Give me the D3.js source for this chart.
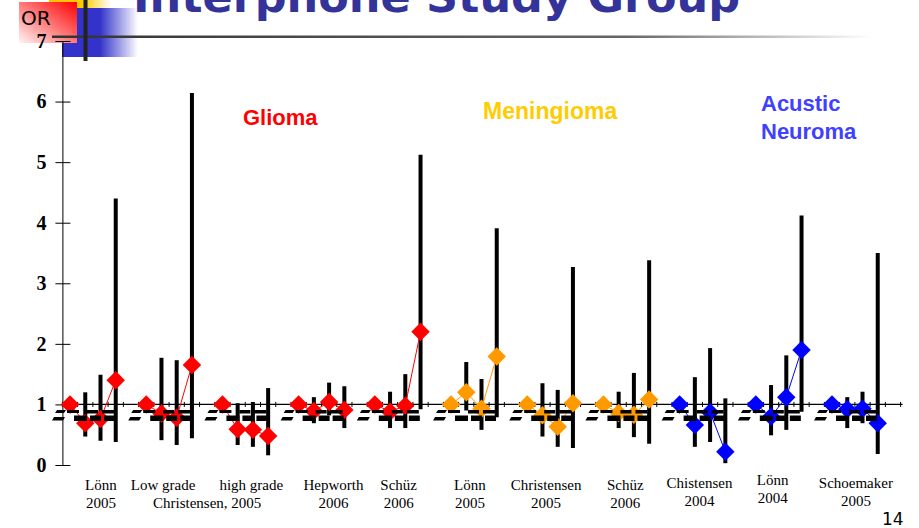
<!DOCTYPE html>
<html><head><meta charset="utf-8">
<script src="https://cdn.jsdelivr.net/npm/d3@7"></script>
<style>html,body{margin:0;padding:0;background:#fff;} svg{display:block}</style>
</head><body>
<svg id="chart" width="919" height="528"></svg>
<script>
// ---------------- DATA ----------------
const studies = ["Lönn 2005 G", "Christensen 2005 low grade", "Christensen 2005 high grade", "Hepworth 2006", "Schüz 2006 G",
                 "Lönn 2005 M", "Christensen 2005 M", "Schüz 2006 M",
                 "Christensen 2004", "Lönn 2004", "Schoemaker 2005"];
const tumourTypes = ["Glioma","Glioma","Glioma","Glioma","Glioma",
                     "Meningioma","Meningioma","Meningioma",
                     "Acustic Neuroma","Acustic Neuroma","Acustic Neuroma"];
const exposures = ["ref", "e1", "e2", "e3"];
const orValues = [
  [1.00, 0.69, 0.76, 1.40],
  [1.00, 0.85, 0.78, 1.65],
  [1.00, 0.59, 0.58, 0.48],
  [1.00, 0.89, 1.04, 0.91],
  [1.00, 0.88, 0.98, 2.20],
  [1.00, 1.20, 0.93, 1.79],
  [1.00, 0.82, 0.63, 1.02],
  [1.00, 0.86, 0.83, 1.08],
  [1.00, 0.66, 0.87, 0.22],
  [1.00, 0.80, 1.12, 1.90],
  [1.00, 0.92, 0.93, 0.69]
];
const ciLower = [
  [null, 0.47, 0.40, 0.38],
  [null, 0.41, 0.33, 0.44],
  [null, 0.33, 0.30, 0.16],
  [null, 0.69, 0.82, 0.61],
  [null, 0.61, 0.61, 0.92],
  [null, 0.90, 0.58, 0.79],
  [null, 0.47, 0.30, 0.28],
  [null, 0.61, 0.46, 0.35],
  [null, 0.30, 0.38, 0.03],
  [null, 0.49, 0.58, 0.88],
  [null, 0.61, 0.69, 0.18]
];
const ciUpper = [
  [null, 1.20, 1.49, 4.40],
  [null, 1.77, 1.73, 6.14],
  [null, 1.02, 1.04, 1.27],
  [null, 1.12, 1.36, 1.30],
  [null, 1.21, 1.50, 5.12],
  [null, 1.70, 1.42, 3.91],
  [null, 1.35, 1.24, 3.27],
  [null, 1.21, 1.52, 3.38],
  [null, 1.45, 1.93, 1.10],
  [null, 1.32, 1.81, 4.12],
  [null, 1.12, 1.21, 3.50]
];
const yTicks = [0, 1, 2, 3, 4, 5, 6, 7];
const labelLine1 = ["Lönn", "Low grade", "high grade", "Hepworth", "Schüz", "Lönn", "Christensen", "Schüz", "Chistensen", "Lönn", "Schoemaker"];
const labelLine2 = ["2005", "", "", "2006", "2006", "2005", "2005", "2006", "2004", "2004", "2005"];
const sharedLabel = "Christensen, 2005";
const typeNames = ["Glioma", "Meningioma", "Acustic Neuroma"];
const titleText = "Interphone Study Group";
const yAxisTitle = "OR";
const pageNumber = "14";

// ---------------- LAYOUT / STYLE ----------------
const typeColor = {"Glioma": "#ff0000", "Meningioma": "#ff9900", "Acustic Neuroma": "#0000ff"};
const typeTextColor = {"Glioma": "#ff0000", "Meningioma": "#ffcc00", "Acustic Neuroma": "#4040ff"};
const labelDx = [8, -6, 6, 12, 1, -4, -4, -1, -3, -6, 1];
const labelDy = [0, 0, 0, 0, 0, 0, 0, 0, -2, -5, -2];

const svg = d3.select("#chart");
const slots = studies.flatMap(s => [...exposures, "gap"].map(e => s + "|" + e));
const x = d3.scaleBand().domain(slots).range([62.4, 900.6]).padding(0);
const bw = x.bandwidth();
const cx = (s, e) => x(s + "|" + e) + bw / 2;
const y = d3.scaleLinear().domain([0, 7]).range([465, 41]);

// ---------- header decoration ----------
const defs = svg.append("defs");
const gRed = defs.append("linearGradient").attr("id", "gRed").attr("x1", 1).attr("y1", 0).attr("x2", 0).attr("y2", 1);
gRed.append("stop").attr("offset", 0).attr("stop-color", "#ff0000");
gRed.append("stop").attr("offset", 0.4).attr("stop-color", "#ff6060");
gRed.append("stop").attr("offset", 1).attr("stop-color", "#fff4f4");
const gBlue = defs.append("linearGradient").attr("id", "gBlue").attr("x1", 0).attr("y1", 0).attr("x2", 1).attr("y2", 0);
gBlue.append("stop").attr("offset", 0).attr("stop-color", "#3333cc");
gBlue.append("stop").attr("offset", 0.5).attr("stop-color", "#3333cc");
gBlue.append("stop").attr("offset", 1).attr("stop-color", "#ffffff");
const gYel = defs.append("linearGradient").attr("id", "gYel").attr("x1", 0).attr("y1", 0).attr("x2", 1).attr("y2", 0);
gYel.append("stop").attr("offset", 0).attr("stop-color", "#ffc000");
gYel.append("stop").attr("offset", 0.55).attr("stop-color", "#ffcc00");
gYel.append("stop").attr("offset", 1).attr("stop-color", "#ffffff");
const gLine = defs.append("linearGradient").attr("id", "gLine").attr("x1", 0).attr("y1", 0).attr("x2", 1).attr("y2", 0);
gLine.append("stop").attr("offset", 0).attr("stop-color", "#333333");
gLine.append("stop").attr("offset", 0.7).attr("stop-color", "#666666");
gLine.append("stop").attr("offset", 1).attr("stop-color", "#ffffff");

svg.append("rect").attr("x", 49).attr("y", 0).attr("width", 62).attr("height", 9).attr("fill", "url(#gYel)");
svg.append("rect").attr("x", 62).attr("y", 8).attr("width", 76).attr("height", 49).attr("fill", "url(#gBlue)");
svg.append("rect").attr("x", 19).attr("y", 2).attr("width", 58).attr("height", 41).attr("fill", "url(#gRed)");
svg.append("rect").attr("x", 52).attr("y", 35.5).attr("width", 820).attr("height", 2.5).attr("fill", "url(#gLine)");
svg.append("rect").attr("x", 83.5).attr("y", 0).attr("width", 4).attr("height", 61).attr("fill", "#222");
svg.append("text").attr("x", 21).attr("y", 25).text(yAxisTitle)
  .attr("font-family", "DejaVu Sans").attr("font-size", 20).attr("fill", "#000");
svg.append("text").attr("x", 133).attr("y", 12).text(titleText)
  .attr("font-family", "DejaVu Sans").attr("font-weight", "bold").attr("font-size", 42)
  .attr("textLength", 607).attr("lengthAdjust", "spacingAndGlyphs").attr("fill", "#333399");

// ---------- y axis ----------
const yAxis = svg.append("g").attr("transform", `translate(${x.range()[0]},0)`)
  .call(d3.axisLeft(y).tickValues(yTicks).tickSizeInner(7).tickSizeOuter(0).tickPadding(9).tickFormat(d3.format("d")));
yAxis.select(".domain").attr("stroke", "#000").attr("stroke-width", 1);
yAxis.selectAll(".tick line").attr("x1", 8).attr("x2", -7).attr("stroke", "#000");
yAxis.selectAll(".tick text").attr("font-family", "Liberation Serif").attr("font-weight", "bold")
  .attr("font-size", 20).attr("fill", "#000");

// ---------- horizontal axis at OR = 1 ----------
const y1 = y(1);
const axisX = svg.append("g");
axisX.append("line").attr("x1", x.range()[0]).attr("x2", x.range()[1] + 2)
  .attr("y1", y1).attr("y2", y1).attr("stroke", "#000").attr("stroke-width", 1.2);
const edges = slots.map(s => x(s)).concat([x.range()[1]]);
axisX.selectAll("line.tk").data(edges).join("line").attr("class", "tk")
  .attr("x1", d => d).attr("x2", d => d).attr("y1", y1 - 2.5).attr("y2", y1 + 2.5)
  .attr("stroke", "#000").attr("stroke-width", 1);

// ---------- CI bars ----------
const pts = studies.flatMap((s, gi) => exposures.map((e, ei) => ({
  s, gi, e, ei, or: orValues[gi][ei], lo: ciLower[gi][ei], hi: ciUpper[gi][ei], type: tumourTypes[gi]
})));
svg.append("g").selectAll("line").data(pts.filter(d => d.lo !== null)).join("line")
  .attr("x1", d => cx(d.s, d.e)).attr("x2", d => cx(d.s, d.e))
  .attr("y1", d => y(d.hi)).attr("y2", d => y(d.lo))
  .attr("stroke", "#000").attr("stroke-width", 4);

// ---------- connecting lines ----------
const line = d3.line().x(d => cx(d.s, d.e)).y(d => y(d.or));
svg.append("g").selectAll("path").data(studies.map((s, gi) => pts.filter(p => p.gi === gi))).join("path")
  .attr("d", line).attr("fill", "none").attr("stroke", d => typeColor[d[0].type]).attr("stroke-width", 1);

// ---------- diamonds ----------
const diamond = d3.symbol().type(d3.symbolSquare).size(170);
svg.append("g").selectAll("path").data(pts).join("path")
  .attr("d", diamond)
  .attr("transform", d => `translate(${cx(d.s, d.e)},${y(d.or)}) rotate(45)`)
  .attr("fill", d => typeColor[d.type]);

// ---------- broken dashed glyph band (as in the source slide) ----------
const band = svg.append("g").attr("fill", "#000");
studies.forEach(s => {
  const x0 = cx(s, "ref");
  const g = band.append("g").attr("transform", `translate(${x0},0)`);
  g.append("path").attr("d", "M-13,410 L-4,410 L-6,413 L-15,413 Z");
  g.append("path").attr("d", "M-16,417 L-5,417 L-7,420.5 L-18,420.5 Z");
  g.append("rect").attr("x", -3).attr("y", 410).attr("width", 12).attr("height", 3);
  g.append("rect").attr("x", 17).attr("y", 410).attr("width", 11).attr("height", 3.5);
  g.append("rect").attr("x", 32).attr("y", 410).attr("width", 12).attr("height", 3.5);
  g.append("rect").attr("x", 4).attr("y", 415.5).attr("width", 13).attr("height", 5.5);
  g.append("rect").attr("x", 20).attr("y", 415.5).attr("width", 11).attr("height", 5.5);
  g.append("rect").attr("x", 34).attr("y", 415.5).attr("width", 11).attr("height", 5.5);
});

// ---------- category labels ----------
const labG = svg.append("g").attr("font-family", "Liberation Serif").attr("font-size", 15)
  .attr("fill", "#000").attr("text-anchor", "middle");
studies.forEach((s, gi) => {
  const mid = (cx(s, exposures[0]) + cx(s, exposures[3])) / 2 + labelDx[gi];
  labG.append("text").attr("x", mid).attr("y", 490 + labelDy[gi]).text(labelLine1[gi]);
  if (labelLine2[gi]) labG.append("text").attr("x", mid).attr("y", 508 + labelDy[gi]).text(labelLine2[gi]);
});
{
  const a = (cx(studies[1], "ref") + cx(studies[2], "e3")) / 2;
  labG.append("text").attr("x", a).attr("y", 508).text(sharedLabel);
}

// ---------- tumour type labels ----------
const tl = svg.append("g").attr("font-family", "Liberation Sans").attr("font-weight", "bold").attr("font-size", 22);
tl.append("text").attr("x", 243).attr("y", 125).attr("fill", typeTextColor["Glioma"]).text(typeNames[0]);
tl.append("text").attr("x", 483).attr("y", 119).attr("fill", typeTextColor["Meningioma"]).attr("font-size", 23).text(typeNames[1]);
const an = typeNames[2].split(" ");
tl.append("text").attr("x", 761).attr("y", 111).attr("fill", typeTextColor["Acustic Neuroma"]).text(an[0]);
tl.append("text").attr("x", 761).attr("y", 139).attr("fill", typeTextColor["Acustic Neuroma"]).text(an[1]);

// ---------- page number ----------
svg.append("text").attr("x", 882).attr("y", 525).text(pageNumber)
  .attr("font-family", "DejaVu Sans").attr("font-size", 17).attr("fill", "#000");
</script>
</body></html>
